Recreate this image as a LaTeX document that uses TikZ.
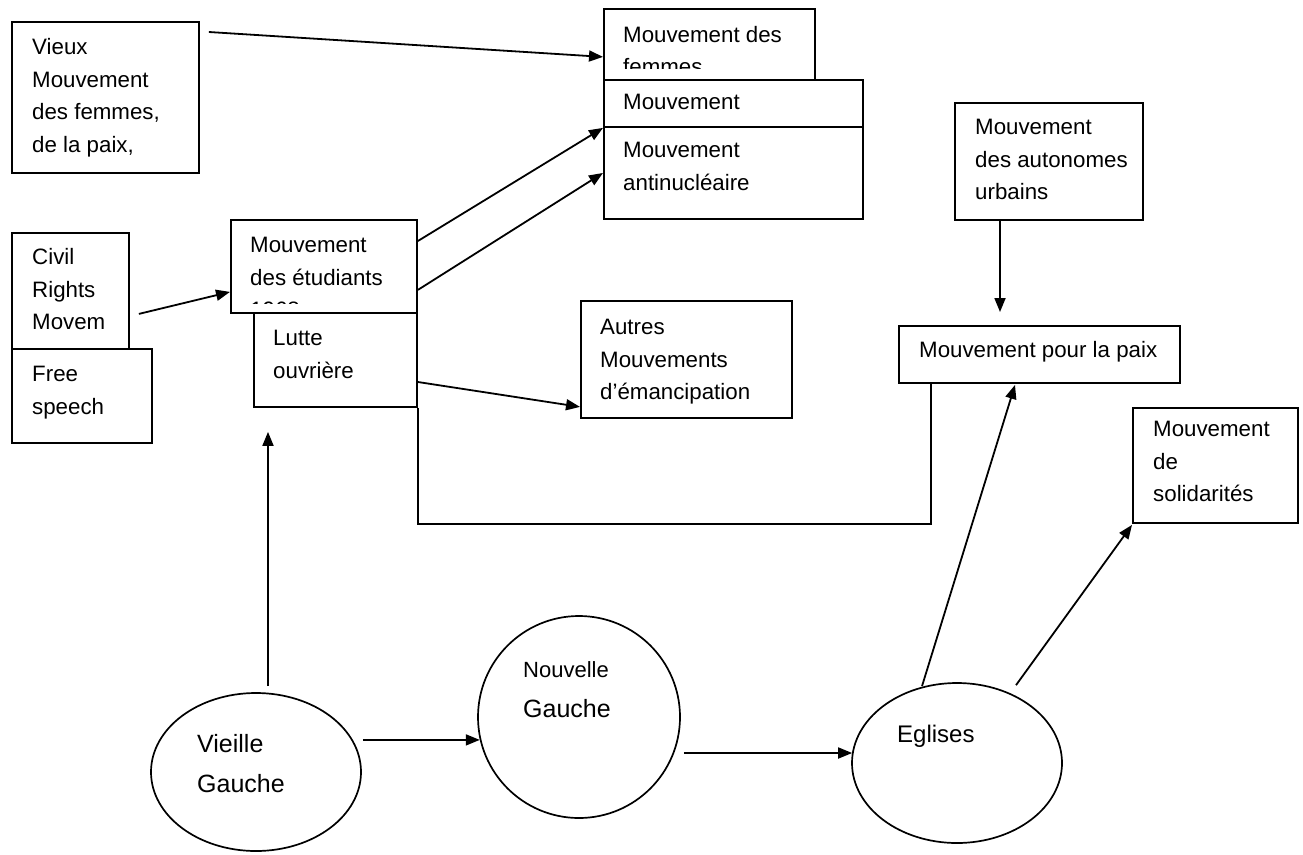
\documentclass[tikz,border=0pt]{standalone}
\usepackage{fontspec}
\setmainfont{Liberation Sans}
\usetikzlibrary{arrows.meta,calc,shapes.geometric}
\begin{document}
\begin{tikzpicture}[x=1pt,y=-1pt,
  box/.style={draw, line width=1.9pt, fill=white, rectangle, inner sep=0pt, anchor=north west},
  txt/.style={anchor=base west, align=left, inner sep=0pt, font=\fontsize{22.3}{32.5}\selectfont},
  etxt/.style={anchor=base west, align=left, inner sep=0pt, font=\fontsize{25}{40}\selectfont},
  oval/.style={draw, line width=1.7pt, ellipse, inner sep=0pt},
  con/.style={line width=1.8pt},
  arr/.style={con, -{Triangle[length=14pt,width=11pt]}}]
\useasboundingbox (0,0) rectangle (1303,854);

% top-left
\node[box, minimum width=187pt, minimum height=151pt] (vieux) at (11,21) {};
\node[txt] (t-vieux) at (32,152) {Vieux\\Mouvement\\des femmes,\\de la paix,};

% top-middle stack
\node[box, minimum width=211pt, minimum height=71pt] (femmesbox) at (603,8) {};
\begin{scope}
  \clip (603,8) rectangle (814,68);
  \node[txt] (t-femmes) at (623,74.5) {Mouvement des\\femmes};
\end{scope}
\node[box, minimum width=259pt, minimum height=47pt] (mvt) at (603,79) {};
\node[txt] (t-mvt) at (623,109.5) {Mouvement};
\node[box, minimum width=259pt, minimum height=92pt] (antinuc) at (603,126) {};
\node[txt] (t-antinuc) at (623,190) {Mouvement\\antinucléaire};

% autonomes
\node[box, minimum width=188pt, minimum height=117pt] (autonomes) at (954,102) {};
\node[txt] (t-autonomes) at (975,199.5) {Mouvement\\des autonomes\\urbains};

% left middle
\node[box, minimum width=117pt, minimum height=116pt] (civil) at (11,232) {};
\node[txt] (t-civil) at (32,329.5) {Civil\\Rights\\Movem};
\node[box, minimum width=140pt, minimum height=94pt] (free) at (11,348) {};
\node[txt] (t-free) at (32,414) {Free\\speech};

% students / workers
\node[box, minimum width=186pt, minimum height=93pt] (etud) at (230,219) {};
\begin{scope}
  \clip (230,219) rectangle (416,303);
  \node[txt] (t-etud) at (250,317.5) {Mouvement\\des étudiants\\1968};
\end{scope}
\node[box, minimum width=163pt, minimum height=94pt] (lutte) at (253,312) {};
\node[txt] (t-lutte) at (273,378) {Lutte\\ouvrière};

% autres
\node[box, minimum width=211pt, minimum height=117pt] (autres) at (580,300) {};
\node[txt] (t-autres) at (600,399.5) {Autres\\Mouvements\\d’émancipation};

% paix
\node[box, minimum width=281pt, minimum height=57pt] (paix) at (898,325) {};
\node[txt] (t-paix) at (919,357.5) {Mouvement pour la paix};

% solidarites
\node[box, minimum width=165pt, minimum height=115pt] (solid) at (1132,407) {};
\node[txt] (t-solid) at (1153,501.5) {Mouvement\\de\\solidarités};

% ovals
\node[oval, minimum width=210pt, minimum height=158pt] (vieille) at (256,772) {};
\node[etxt] (t-vieille) at (197,792) {Vieille\\Gauche};
\node[oval, circle, minimum size=202pt] (nouvelle) at (579,717) {};
\node[anchor=base west, inner sep=0pt, font=\fontsize{22}{26}\selectfont] (t-nouvelle) at (523,677) {Nouvelle};
\node[etxt] (t-gauche2) at (523,717) {Gauche};
\node[oval, minimum width=210pt, minimum height=160pt] (eglises) at (957,763) {};
\node[anchor=base west, inner sep=0pt, font=\fontsize{24}{28}\selectfont] (t-eglises) at (897,742) {Eglises};

% connectors
\draw[arr] ($(vieux.north east)+(9,11)$) -- ($(femmesbox.south west)+(0,-24)$);
\draw[arr] ($(civil.south east)+(9,-36)$) -- ($(etud.south west)+(0,-22)$);
\draw[arr] ($(etud.north east)+(0,22)$) -- (mvt.south west);
\draw[arr] ($(etud.south east)+(0,-24)$) -- (antinuc.west);
\draw[arr] ($(lutte.north east)+(0,70)$) -- ($(autres.south west)+(0,-12)$);
\draw[con] (lutte.south east) -- ++(0,116) -| ($(paix.south west)+(33,0)$);
\draw[arr] ($(autonomes.south west)+(46,0)$) -- ($(paix.north west)+(102,-13)$);
\draw[arr] ($(vieille.north)+(12,-6)$) -- ($(lutte.south west)+(15,24)$);
\draw[arr] ($(vieille.east |- nouvelle.193)+(1,0)$) -- (nouvelle.193);
\draw[arr] ($(nouvelle.east)+(3,36)$) -- ($(eglises.west)+(1,-10)$);
\draw[arr] ($(eglises.north)+(-35,4)$) -- ($(paix.south west)+(117,1)$);
\draw[arr] ($(eglises.north)+(59,3)$) -- ($(solid.south west)+(0,1)$);
\end{tikzpicture}
\end{document}
